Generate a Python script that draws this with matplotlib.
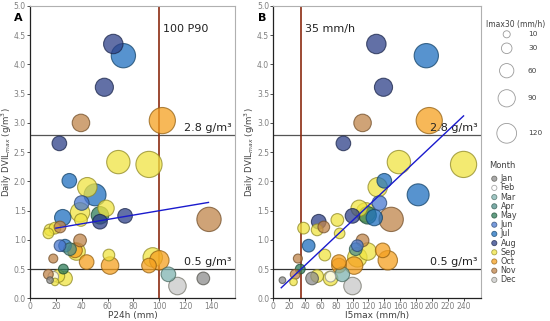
import numpy as np
import matplotlib
matplotlib.use('Agg')
import matplotlib.pyplot as plt
from matplotlib.colors import to_rgb

# one row per event: P24h (mm), I5max (mm/h), daily DVILmax (g/m3), Imax30 (mm/h), month
p24 = [64.4, 72.2, 57.5, 39.4, 102.3, 22.7, 68.3, 92.0, 30.4, 44.3,
       50.3, 40.0, 38.7, 54.1, 58.8, 73.5, 25.3, 138.4, 54.1, 39.4,
       15.5, 19.3, 23.2, 14.2, 23.2, 27.1, 30.9, 34.8, 36.0, 38.7,
       18.0, 43.8, 61.0, 61.9, 94.9, 92.0, 100.0, 107.0, 114.0, 134.0,
       25.8, 14.2, 18.0, 21.9, 27.1, 19.3, 15.5]
i5max = [130, 193, 139, 112.6, 196.7, 88.4, 158.4, 240, 140, 131.7,
         182.7, 133.8, 116.8, 119, 108.3, 99.9, 127.4, 148.7, 57.3, 80.8,
         55.3, 38.2, 63.7, 83.7, 106, 44.6, 104, 138, 119, 112.6,
         31, 82.8, 65, 101.9, 106, 82.8, 144.4, 87, 99.9, 48.9,
         34, 27.6, 72.2, 55.3, 72.2, 25.5, 11.5]
dvil = [4.35, 4.15, 3.61, 3.00, 3.04, 2.65, 2.33, 2.29, 2.01, 1.90,
        1.77, 1.63, 1.47, 1.42, 1.54, 1.41, 1.38, 1.35, 1.31, 1.34,
        1.17, 1.20, 1.22, 1.11, 0.90, 0.90, 0.84, 0.82, 0.80, 0.99,
        0.68, 0.62, 0.74, 0.56, 0.70, 0.56, 0.65, 0.41, 0.21, 0.34,
        0.50, 0.41, 0.37, 0.38, 0.34, 0.28, 0.31]
imax30 = [116, 185, 100, 93, 216, 63, 170, 216, 63, 116,
          150, 63, 116, 93, 80, 63, 80, 185, 63, 46,
          38, 38, 38, 30, 38, 46, 46, 63, 93, 46,
          20, 63, 38, 93, 116, 63, 116, 63, 93, 46,
          25, 25, 30, 46, 63, 12, 8]
month = ['Aug', 'Jul', 'Aug', 'Nov', 'Oct', 'Aug', 'Sep', 'Sep', 'Jul', 'Sep',
         'Jul', 'Jun', 'Sep', 'May', 'Sep', 'Aug', 'Jul', 'Nov', 'Aug', 'Sep',
         'Sep', 'Sep', 'Nov', 'Sep', 'Jun', 'Jul', 'Apr', 'Oct', 'Sep', 'Nov',
         'Nov', 'Oct', 'Sep', 'Oct', 'Sep', 'Oct', 'Oct', 'Mar', 'Dec', 'Jan',
         'May', 'Nov', 'Feb', 'Sep', 'Sep', 'Sep', 'Jan']

months = ['Jan', 'Feb', 'Mar', 'Apr', 'May', 'Jun', 'Jul', 'Aug', 'Sep', 'Oct', 'Nov', 'Dec']
month_colors = ['#8c8c8c', '#ffffff', '#7fb3b0', '#4f8f8a', '#2e7d5a', '#4a78d0',
                '#1f6fbf', '#2d4088', '#f0e442', '#f5a020', '#c0844a', '#c8c8c8']
size_keys = [10, 30, 60, 90, 120]

# fitted lines (end points)
fit_a_x = [20, 138]
fit_a_y = [1.20, 1.64]
fit_b_x = [10, 240]
fit_b_y = [0.18, 3.12]

P90 = 100
I5_THRESHOLD = 35
DVIL_HIGH = 2.8
DVIL_LOW = 0.5


def bubble_size(v):
    return 1.6 * np.asarray(v, dtype=float) + 10


def edge_of(c):
    r, g, b = to_rgb(c)
    if c == '#ffffff':
        return (0.55, 0.55, 0.55)
    return (r * 0.6, g * 0.6, b * 0.55)


cmap = dict(zip(months, month_colors))
faces = [cmap[m] for m in month]
edges = [edge_of(cmap[m]) for m in month]
sizes = bubble_size(imax30)
order = np.argsort(-sizes)  # big ones underneath

fig = plt.figure(figsize=(5.5, 3.21), dpi=100)
W, H = 550, 321
ax_a = fig.add_axes([30 / W, (H - 298.3) / H, 205 / W, 292.3 / H])
ax_b = fig.add_axes([273.3 / W, (H - 298.3) / H, 207.7 / W, 292.3 / H])

tick_col = '#7f7f7f'
for ax, xs, xmax, xlabel in [(ax_a, p24, 158.5, 'P24h (mm)'), (ax_b, i5max, 262, 'I5max (mm/h)')]:
    xs = np.asarray(xs)
    ax.scatter(xs[order], np.asarray(dvil)[order], s=sizes[order],
               c=[faces[i] for i in order], edgecolors=[edges[i] for i in order],
               linewidths=0.8, alpha=0.75, zorder=3)
    ax.set_xlim(0, xmax)
    ax.set_ylim(0, 5)
    ax.set_yticks(np.arange(0, 5.01, 0.5))
    ax.set_yticklabels([f'{v:.1f}' for v in np.arange(0, 5.01, 0.5)])
    ax.tick_params(labelsize=5.5, colors='#333333', labelcolor=tick_col, length=2, width=0.6, pad=1)
    ax.set_xlabel(xlabel, fontsize=6.5, color='#404040', labelpad=0)
    ax.set_ylabel('Daily DVIL$_{max}$ (g/m$^3$)', fontsize=6.2, color='#404040')
    for s in ['top', 'right']:
        ax.spines[s].set_color('#b0b0b0')
        ax.spines[s].set_linewidth(0.8)
    for s in ['left', 'bottom']:
        ax.spines[s].set_color('#222222')
        ax.spines[s].set_linewidth(0.9)
    ax.axhline(DVIL_HIGH, color='#555555', lw=0.9, zorder=2)
    ax.axhline(DVIL_LOW, color='#333333', lw=0.9, zorder=2)
    ax.text(0.985, DVIL_HIGH + 0.03, '2.8 g/m³', transform=ax.get_yaxis_transform(),
            ha='right', va='bottom', fontsize=8, color='#222222', zorder=4)
    ax.text(0.985, DVIL_LOW + 0.03, '0.5 g/m³', transform=ax.get_yaxis_transform(),
            ha='right', va='bottom', fontsize=8, color='#222222', zorder=4)

ax_a.set_xticks(np.arange(0, 141, 20))
ax_b.set_xticks(np.arange(0, 241, 20))
ax_a.yaxis.set_label_coords(-0.076, 0.5)
ax_b.yaxis.set_label_coords(-0.080, 0.5)

ax_a.axvline(P90, color='#8b2a10', lw=1.2, zorder=2)
ax_b.axvline(I5_THRESHOLD, color='#8b2a10', lw=1.2, zorder=2)
ax_a.text(P90 + 3, 4.6, '100 P90', fontsize=8, color='#222222', va='center')
ax_b.text(I5_THRESHOLD + 5, 4.6, '35 mm/h', fontsize=8, color='#222222', va='center')

ax_a.plot(fit_a_x, fit_a_y, color='#1a1acd', lw=1.0, zorder=5)
ax_b.plot(fit_b_x, fit_b_y, color='#1a1acd', lw=1.0, zorder=5)

fig.text(18 / W, 1 - 18 / H, 'A', fontsize=8, fontweight='bold', ha='center', va='center')
fig.text(262 / W, 1 - 18 / H, 'B', fontsize=8, fontweight='bold', ha='center', va='center')

# legends drawn in a pixel-space axes on the right
lg = fig.add_axes([485 / W, 0, 65 / W, 1])
lg.set_xlim(485, 550)
lg.set_ylim(H, 0)
lg.axis('off')
lg.text(516, 24, 'Imax30 (mm/h)', fontsize=5.5, color='#404040', ha='center', va='center')
size_y = [34.3, 48.3, 70.7, 98.3, 133.3]
lg.scatter([506.7] * len(size_keys), size_y, s=bubble_size(size_keys),
           facecolors='none', edgecolors='#9a9a9a', linewidths=0.6)
for v, y in zip(size_keys, size_y):
    lg.text(528, y, str(v), fontsize=5.3, color='#404040', va='center')

lg.text(489, 166, 'Month', fontsize=6, color='#404040', va='center')
month_y = 178.7 + 9.2 * np.arange(len(months))
lg.scatter([494.3] * len(months), month_y, s=14, c=month_colors,
           edgecolors=[edge_of(c) for c in month_colors], linewidths=0.6, alpha=0.75)
for m, y in zip(months, month_y):
    lg.text(500.5, y, m, fontsize=5.8, color='#404040', va='center')

fig.savefig('out.png', dpi=100)
